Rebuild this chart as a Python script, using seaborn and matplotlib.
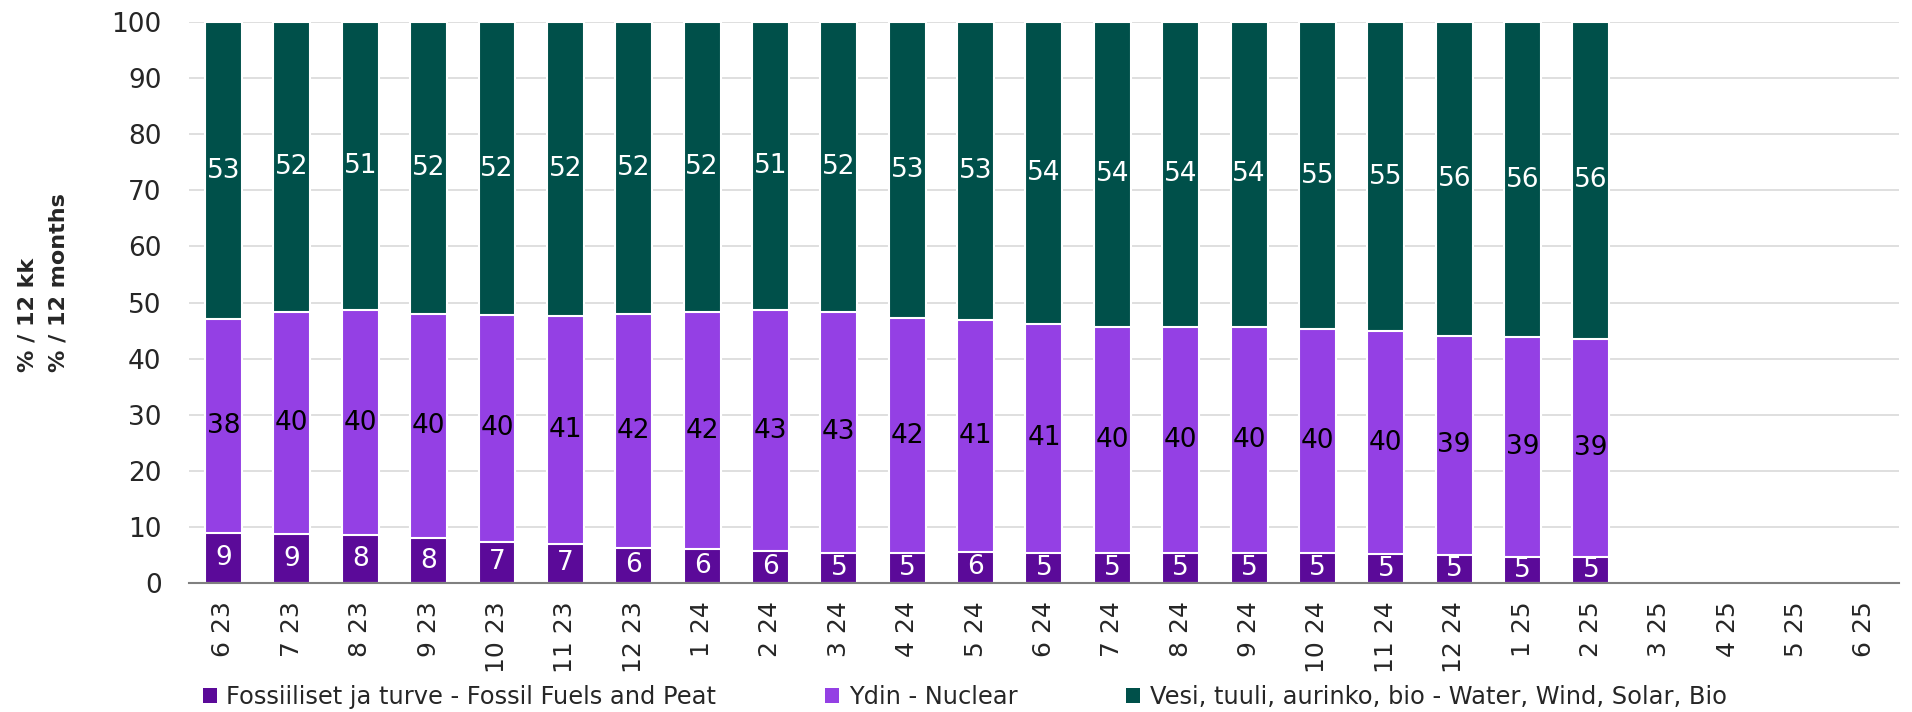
"""
Electricity generation shares, rolling 12 months (stacked bars).
Output: out.png
"""

import numpy as np
import pandas as pd
import matplotlib
matplotlib.use("Agg")
import matplotlib.pyplot as plt
from matplotlib.patches import Patch
from matplotlib.ticker import MultipleLocator
import seaborn as sns

# --- data ---
months = ["6 23", "7 23", "8 23", "9 23", "10 23", "11 23", "12 23",
          "1 24", "2 24", "3 24", "4 24", "5 24", "6 24", "7 24", "8 24",
          "9 24", "10 24", "11 24", "12 24", "1 25", "2 25",
          "3 25", "4 25", "5 25", "6 25"]
fossil = [8.9, 8.7, 8.5, 8.0, 7.4, 7.0, 6.3, 6.1, 5.7, 5.4, 5.4, 5.6,
          5.4, 5.4, 5.3, 5.3, 5.3, 5.2, 5.0, 4.7, 4.6,
          np.nan, np.nan, np.nan, np.nan]
nuclear = [38.1, 39.6, 40.2, 40.0, 40.4, 40.6, 41.6, 42.2, 43.0, 42.9, 41.8, 41.3,
           40.8, 40.3, 40.4, 40.4, 40.0, 39.7, 39.1, 39.1, 39.0,
           np.nan, np.nan, np.nan, np.nan]
renew = [53.0, 51.7, 51.3, 52.0, 52.2, 52.4, 52.1, 51.7, 51.3, 51.7, 52.8, 53.1,
         53.8, 54.3, 54.3, 54.3, 54.7, 55.1, 55.9, 56.2, 56.4,
         np.nan, np.nan, np.nan, np.nan]

labels = ["Fossiiliset ja turve - Fossil Fuels and Peat",
          "Ydin - Nuclear",
          "Vesi, tuuli, aurinko, bio - Water, Wind, Solar, Bio"]
colors = ["#5B0A99", "#9440E4", "#00504A"]

# --- frame ---
df = pd.DataFrame({"Month": months, "Fossil": fossil, "Nuclear": nuclear, "Renew": renew})
df["FossilNuclear"] = df["Fossil"] + df["Nuclear"]
df["Total"] = df["FossilNuclear"] + df["Renew"]

sns.set_theme(style="white")
plt.rcParams["font.family"] = ["DejaVu Sans"]

fig = plt.figure(figsize=(19.12, 7.12), dpi=100)
ax = fig.add_axes([0.099, 0.181, 0.894, 0.788])

bar_kw = dict(order=months, width=0.54, edgecolor="white", linewidth=1.5, ax=ax, zorder=3)
sns.barplot(data=df, x="Month", y="Total", color=colors[2], **bar_kw)
sns.barplot(data=df, x="Month", y="FossilNuclear", color=colors[1], **bar_kw)
sns.barplot(data=df, x="Month", y="Fossil", color=colors[0], **bar_kw)
# seaborn desaturates; force exact colours
for cont, c in zip(ax.containers, [colors[2], colors[1], colors[0]]):
    for p in cont:
        p.set_facecolor(c)

# --- segment labels ---
for i, row in df.iterrows():
    if pd.isna(row["Fossil"]):
        continue
    ax.text(i, row["Fossil"] / 2, f"{row['Fossil']:.0f}", ha="center", va="center",
            color="white", fontsize=19, zorder=5)
    ax.text(i, row["Fossil"] + row["Nuclear"] / 2, f"{row['Nuclear']:.0f}", ha="center",
            va="center", color="black", fontsize=19, zorder=5)
    ax.text(i, row["FossilNuclear"] + row["Renew"] / 2, f"{row['Renew']:.0f}", ha="center",
            va="center", color="white", fontsize=19, zorder=5)

# --- axes styling ---
ax.set_ylim(0, 100)
ax.set_xlim(-0.5, len(months) - 0.5)
ax.yaxis.set_major_locator(MultipleLocator(10))
ax.grid(axis="y", color="#d9d9d9", linewidth=1.2, zorder=0)
ax.grid(axis="x", visible=False)
for s in ["top", "right", "left"]:
    ax.spines[s].set_visible(False)
ax.spines["bottom"].set_color("#808080")
ax.spines["bottom"].set_linewidth(1.5)
ax.spines["bottom"].set_zorder(4)

ax.set_xticks(range(len(months)))
ax.set_xticklabels(months, rotation=90, fontsize=18)
ax.set_xticks(np.arange(-0.5, len(months)), minor=True)
ax.tick_params(axis="x", which="major", length=0, pad=13)
ax.tick_params(axis="x", which="minor", length=6.5, width=1.5, color="#808080", direction="out")
ax.tick_params(axis="y", length=0, labelsize=19, pad=20)

ax.set_xlabel("")
ax.set_ylabel("")
# two-line axis title, left-aligned lines as in the reference
fig.text(0.0225, 0.4775, "% / 12 kk\n% / 12 months", rotation=90, ha="center", va="bottom",
         multialignment="left", fontsize=16, weight="heavy", linespacing=1.7)

# --- legend ---
handles = [Patch(facecolor=c, edgecolor="none") for c in colors]
fig.legend(handles, labels, loc="center left", bbox_to_anchor=(0.106, 0.021), ncol=3,
           frameon=False, fontsize=17.4, handlelength=0.58, handleheight=0.58,
           handletextpad=0.4, columnspacing=4.5, borderpad=0, borderaxespad=0)

plt.savefig("out.png", dpi=100)
